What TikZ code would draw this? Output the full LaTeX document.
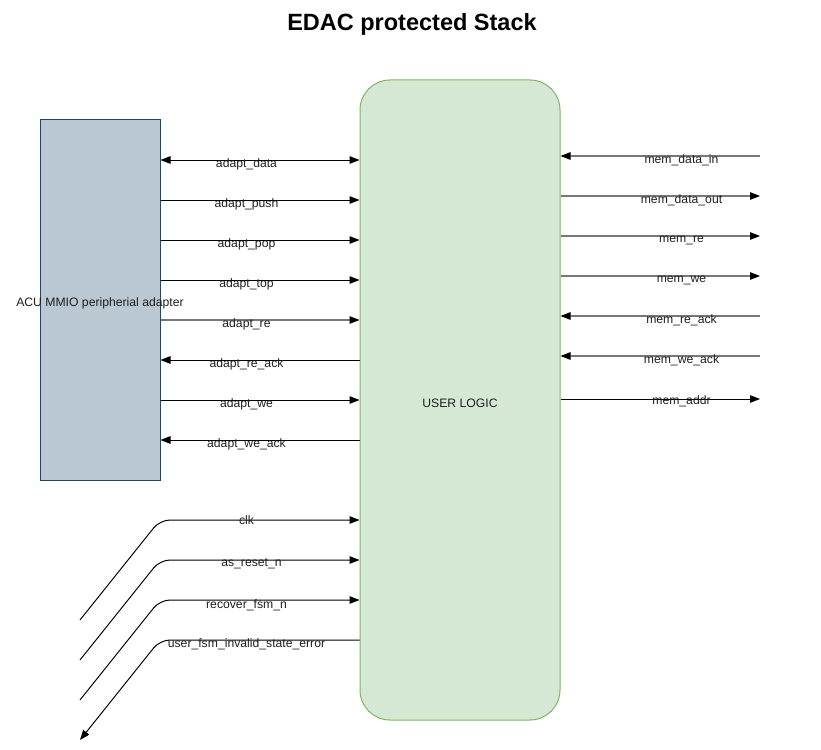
\documentclass[tikz,border=0pt]{standalone}
\usepackage{fontspec}
\setmainfont{Liberation Sans}
\usetikzlibrary{arrows.meta}
\definecolor{adfill}{HTML}{BAC8D3}
\definecolor{adstroke}{HTML}{23445D}
\definecolor{lgfill}{HTML}{D5E8D4}
\definecolor{lgstroke}{HTML}{82B366}
\definecolor{wiregray}{HTML}{777777}
\begin{document}
\begin{tikzpicture}[x=1pt,y=-1pt,
  lbl/.style={font=\fontsize{12.2}{14}\selectfont, inner sep=0pt, text=black!88, yshift=-2pt},
  ttl/.style={font=\bfseries\fontsize{23.5}{26}\selectfont, inner sep=0pt},
  tipb/.tip={Triangle[length=10pt,width=7.5pt,color=black]},
  sig/.style={line width=1pt, draw=black, -tipb},
  sigl/.style={line width=1pt, draw=black, tipb-},
  sigb/.style={line width=1pt, draw=black, tipb-tipb},
  gsig/.style={line width=1.2pt, draw=wiregray, -tipb},
  gsigl/.style={line width=1.2pt, draw=wiregray, tipb-},
  elbow/.style={rounded corners=10pt}]
\useasboundingbox (0,0) rectangle (821,749);
\node[ttl] (title) at (412,24.5) {EDAC protected Stack};
\node[draw=adstroke, fill=adfill, line width=1pt, minimum width=120pt, minimum height=360pt, inner sep=0pt] (adapter) at (100,300) {};
\node[lbl] (adaptertext) at (100,301) {ACU MMIO peripherial adapter};
\node[draw=lgstroke, fill=lgfill, line width=1pt, rounded corners=30pt, minimum width=200pt, minimum height=640pt, inner sep=0pt] (logic) at (460,400) {};
\node[lbl] (logictext) at (460,401) {USER LOGIC};

% left side connectors
\draw[sigb] (adapter.east |- 0,160) -- (logic.west |- 0,160);
\draw[sig]  (adapter.east |- 0,200) -- (logic.west |- 0,200);
\draw[sig]  (adapter.east |- 0,240) -- (logic.west |- 0,240);
\draw[sig]  (adapter.east |- 0,280) -- (logic.west |- 0,280);
\draw[gsig] (adapter.east |- 0,320) -- (logic.west |- 0,320);
\draw[sigl] (adapter.east |- 0,360) -- (logic.west |- 0,360);
\draw[sig]  (adapter.east |- 0,400) -- (logic.west |- 0,400);
\draw[sigl] (adapter.east |- 0,440) -- (logic.west |- 0,440);
\node[lbl] (l1) at (246.5,162.5) {adapt\_data};
\node[lbl] (l2) at (246.5,202.5) {adapt\_push};
\node[lbl] (l3) at (246.5,242.5) {adapt\_pop};
\node[lbl] (l4) at (246.5,282.5) {adapt\_top};
\node[lbl] (l5) at (246.5,322.5) {adapt\_re};
\node[lbl] (l6) at (246.5,362.5) {adapt\_re\_ack};
\node[lbl] (l7) at (246.5,402.5) {adapt\_we};
\node[lbl] (l8) at (246.5,442.5) {adapt\_we\_ack};

% right side connectors
\coordinate (r1) at (760,156);
\coordinate (r2) at (760,196);
\coordinate (r3) at (760,236);
\coordinate (r4) at (760,276);
\coordinate (r5) at (760,316);
\coordinate (r6) at (760,356);
\coordinate (r7) at (760,399);
\draw[gsigl] (logic.east |- r1) -- (r1);
\draw[gsig]  (logic.east |- r2) -- (r2);
\draw[gsig]  (logic.east |- r3) -- (r3);
\draw[gsig]  (logic.east |- r4) -- (r4);
\draw[gsigl] (logic.east |- r5) -- (r5);
\draw[gsigl] (logic.east |- r6) -- (r6);
\draw[sig]   (logic.east |- r7) -- (r7);
\node[lbl] (m1) at (681.5,158.5) {mem\_data\_in};
\node[lbl] (m2) at (681.5,198.5) {mem\_data\_out};
\node[lbl] (m3) at (681.5,238.5) {mem\_re};
\node[lbl] (m4) at (681.5,278.5) {mem\_we};
\node[lbl] (m5) at (681.5,318.5) {mem\_re\_ack};
\node[lbl] (m6) at (681.5,358.5) {mem\_we\_ack};
\node[lbl] (m7) at (681.5,399.5) {mem\_addr};

% bottom left connectors
\coordinate (b1) at (80,620);
\coordinate (b2) at (80,660);
\coordinate (b3) at (80,700);
\coordinate (b4) at (80,740);
\draw[sig, elbow] (b1) -- (160,520) -- (logic.west |- 0,520);
\draw[sig, elbow] (b2) -- (160,560) -- (logic.west |- 0,560);
\draw[sig, elbow] (b3) -- (160,600) -- (logic.west |- 0,600);
\draw[sig, elbow] (logic.west |- 0,640) -- (160,640) -- (b4);
\node[lbl] (c1) at (246.5,518) {clk};
\node[lbl] (c2) at (251.5,562) {as\_reset\_n};
\node[lbl] (c3) at (246.5,603) {recover\_fsm\_n};
\node[lbl] (c4) at (246.5,642) {user\_fsm\_invalid\_state\_error};
\end{tikzpicture}
\end{document}
